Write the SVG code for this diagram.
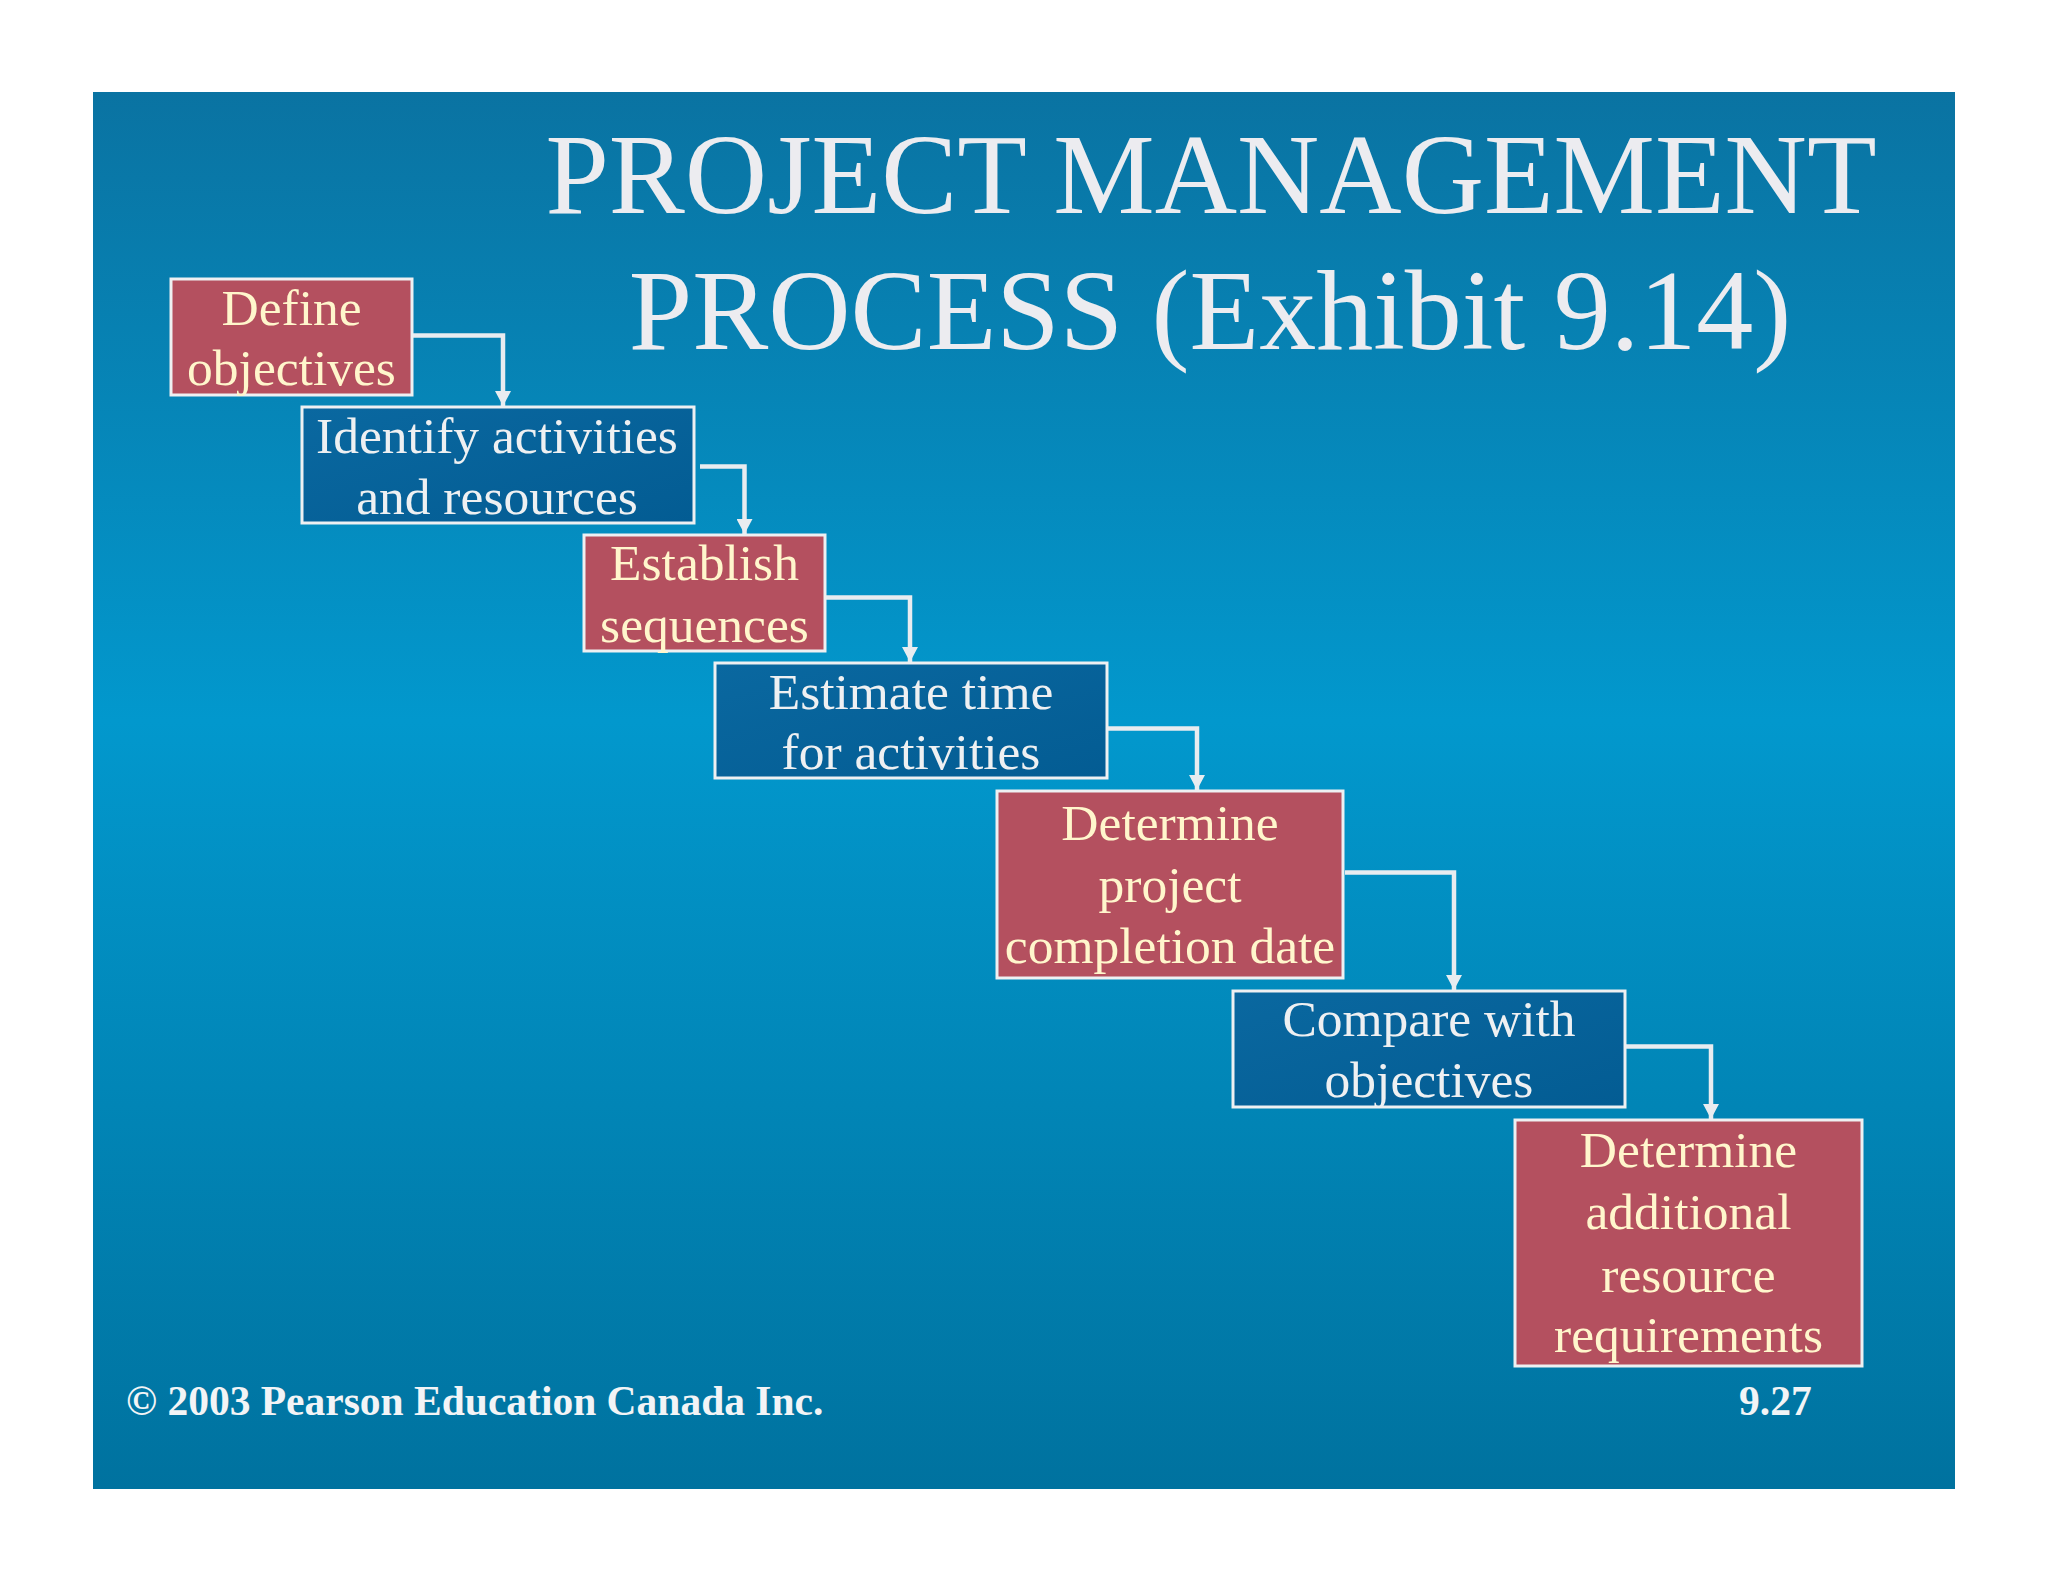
<svg xmlns="http://www.w3.org/2000/svg" width="2048" height="1582" viewBox="0 0 2048 1582">
<style>
.red{fill:#b4505f;stroke:#eef0f2;stroke-width:3}
.blue{fill:url(#boxblue);stroke:#eef0f2;stroke-width:3}
.t{font-family:"Liberation Serif","Times New Roman",serif;font-size:51.5px;text-anchor:middle}
.tr{fill:#fff6cc}
.tb{fill:#eef0f2}
.title{font-family:"Liberation Serif","Times New Roman",serif;font-size:114px;fill:#ececf0;text-anchor:middle}
.foot{font-family:"Liberation Serif","Times New Roman",serif;font-size:41.5px;font-weight:bold;fill:#f2f4f6}
.conn{fill:none;stroke:#e8ecf0;stroke-width:4.5;marker-end:url(#arr)}
</style>
<defs>
<linearGradient id="bg" x1="0" y1="0" x2="0" y2="1">
<stop offset="0" stop-color="#0a73a2"/>
<stop offset="0.45" stop-color="#0298cd"/>
<stop offset="1" stop-color="#00729f"/>
</linearGradient>
<linearGradient id="boxblue" x1="0" y1="0" x2="1" y2="1">
<stop offset="0" stop-color="#0a68a0"/>
<stop offset="1" stop-color="#035c93"/>
</linearGradient>
<marker id="arr" markerUnits="userSpaceOnUse" markerWidth="16" markerHeight="16" refX="15" refY="8" orient="auto">
<path d="M0,0 L15,8 L0,16 Z" fill="#e8ecf0"/>
</marker>
</defs>
<rect x="0" y="0" width="2048" height="1582" fill="#ffffff"/>
<rect x="93" y="92" width="1862" height="1397" fill="url(#bg)"/>
<g id="title">
<text class="title" x="1211" y="213">PROJECT MANAGEMENT</text>
<text class="title" x="1210" y="349">PROCESS (Exhibit 9.14)</text>
</g>
<g id="connectors">
<path class="conn" d="M412,335.5 H503 V406"/>
<path class="conn" d="M700,466.5 H744.5 V534"/>
<path class="conn" d="M821,597.5 H910 V662"/>
<path class="conn" d="M1107,728.5 H1197 V790"/>
<path class="conn" d="M1345,872.5 H1454 V990"/>
<path class="conn" d="M1622,1046.5 H1711 V1119"/>
</g>
<g id="n1">
<rect class="red" x="171" y="279" width="241" height="116"/>
<text class="t tr" x="291.5" y="325">Define</text>
<text class="t tr" x="291.5" y="385">objectives</text>
</g>
<g id="n2">
<rect class="blue" x="302" y="407" width="392" height="116"/>
<text class="t tb" x="497" y="453">Identify activities</text>
<text class="t tb" x="497" y="514">and resources</text>
</g>
<g id="n3">
<rect class="red" x="584" y="535" width="241" height="116"/>
<text class="t tr" x="704.5" y="580">Establish</text>
<text class="t tr" x="704.5" y="641.5">sequences</text>
</g>
<g id="n4">
<rect class="blue" x="715" y="663" width="392" height="115"/>
<text class="t tb" x="911" y="708.5">Estimate time</text>
<text class="t tb" x="911" y="768.5">for activities</text>
</g>
<g id="n5">
<rect class="red" x="997" y="791" width="346" height="187"/>
<text class="t tr" x="1170" y="840">Determine</text>
<text class="t tr" x="1170" y="901.5">project</text>
<text class="t tr" x="1170" y="963">completion date</text>
</g>
<g id="n6">
<rect class="blue" x="1233" y="991" width="392" height="116"/>
<text class="t tb" x="1429" y="1036">Compare with</text>
<text class="t tb" x="1429" y="1097">objectives</text>
</g>
<g id="n7">
<rect class="red" x="1515" y="1120" width="347" height="246"/>
<text class="t tr" x="1688.5" y="1166.5">Determine</text>
<text class="t tr" x="1688.5" y="1228.5">additional</text>
<text class="t tr" x="1688.5" y="1291.5">resource</text>
<text class="t tr" x="1688.5" y="1351.5">requirements</text>
</g>
<g id="footer">
<text class="foot" x="126" y="1415">© 2003 Pearson Education Canada Inc.</text>
<text class="foot" x="1739" y="1415">9.27</text>
</g>
</svg>
